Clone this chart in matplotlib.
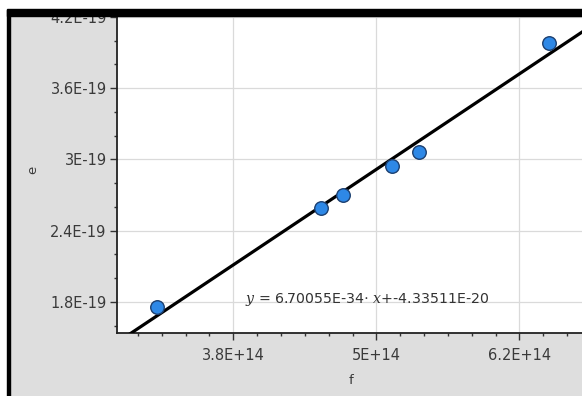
import numpy as np
import matplotlib
matplotlib.use("Agg")
import matplotlib.pyplot as plt
from matplotlib.patches import Rectangle
from matplotlib.ticker import MultipleLocator, FixedLocator

# data
f_vals = np.array([3.157e14, 4.536e14, 4.718e14, 5.129e14, 5.358e14, 6.448e14])
e_vals = np.array([1.755e-19, 2.591e-19, 2.697e-19, 2.941e-19, 3.062e-19, 3.980e-19])

# regression line shown on the chart
slope = 6.70055e-34
intercept = -4.33511e-20
eq_text = r"$y$ = 6.70055E-34$\cdot$ $x$+-4.33511E-20"

x_ticks = [3.8e14, 5.0e14, 6.2e14]
x_labels = ["3.8E+14", "5E+14", "6.2E+14"]
y_ticks = [1.8e-19, 2.4e-19, 3.0e-19, 3.6e-19, 4.2e-19]
y_labels = ["1.8E-19", "2.4E-19", "3E-19", "3.6E-19", "4.2E-19"]

plt.rcParams["mathtext.fontset"] = "dejavuserif"

W, H = 582, 396
fig = plt.figure(figsize=(W / 100, H / 100), dpi=100, facecolor="#dedede")

# axes box in pixels: left 117, right 582, top 16, bottom 333
ax = fig.add_axes([117 / W, (H - 333) / H, (582 - 117) / W, (333 - 16) / H])
ax.set_facecolor("white")
ax.set_xlim(2.824e14, 6.725e14)
ax.set_ylim(1.539e-19, 4.208e-19)

xs = np.array(ax.get_xlim())
ax.plot(xs, slope * xs + intercept, color="black", lw=2.3, zorder=3)
ax.scatter(f_vals, e_vals, s=95, color="#2e88e6", edgecolor="#1c3f70",
           linewidth=1.0, zorder=4)

ax.xaxis.set_major_locator(FixedLocator(x_ticks))
ax.set_xticklabels(x_labels)
ax.yaxis.set_major_locator(FixedLocator(y_ticks))
ax.set_yticklabels(y_labels)
ax.xaxis.set_minor_locator(MultipleLocator(0.2e14))
ax.yaxis.set_minor_locator(MultipleLocator(0.2e-19))

ax.grid(True, which="major", color="#dadada", lw=0.9)
ax.set_axisbelow(True)
for s in ["top", "right"]:
    ax.spines[s].set_visible(False)
for s in ["left", "bottom"]:
    ax.spines[s].set_linewidth(1.3)
    ax.spines[s].set_color("#222222")
ax.tick_params(which="major", length=5, width=1, color="#333333",
               labelsize=10.5, labelcolor="#3a3a3a")
ax.tick_params(axis="y", which="major", pad=2.5)
ax.tick_params(axis="x", which="major", pad=6)
ax.tick_params(which="minor", length=2.5, width=1, color="#333333")

fig.text(33 / W, 1 - 170 / H, "e", rotation=90, fontsize=9.5,
         color="#3a3a3a", ha="center", va="center")
fig.text(351 / W, 1 - 381 / H, "f", fontsize=9.5, color="#3a3a3a",
         ha="center", va="center")
fig.text(245 / W, 1 - 300 / H, eq_text, fontsize=10.2, color="#333333",
         ha="left", va="center")

# screen frame
fig.patches.append(Rectangle((0, 0), 7 / W, 1, transform=fig.transFigure,
                             color="white", zorder=10))
fig.patches.append(Rectangle((7 / W, 0), 3 / W, 1, transform=fig.transFigure,
                             color="black", zorder=10))
fig.patches.append(Rectangle((0, 1 - 9 / H), 1, 9 / H, transform=fig.transFigure,
                             color="white", zorder=10))
fig.patches.append(Rectangle((7 / W, 1 - 16 / H), 1, 7 / H,
                             transform=fig.transFigure, color="black", zorder=10))

fig.savefig("out.png", dpi=100, facecolor=fig.get_facecolor())
